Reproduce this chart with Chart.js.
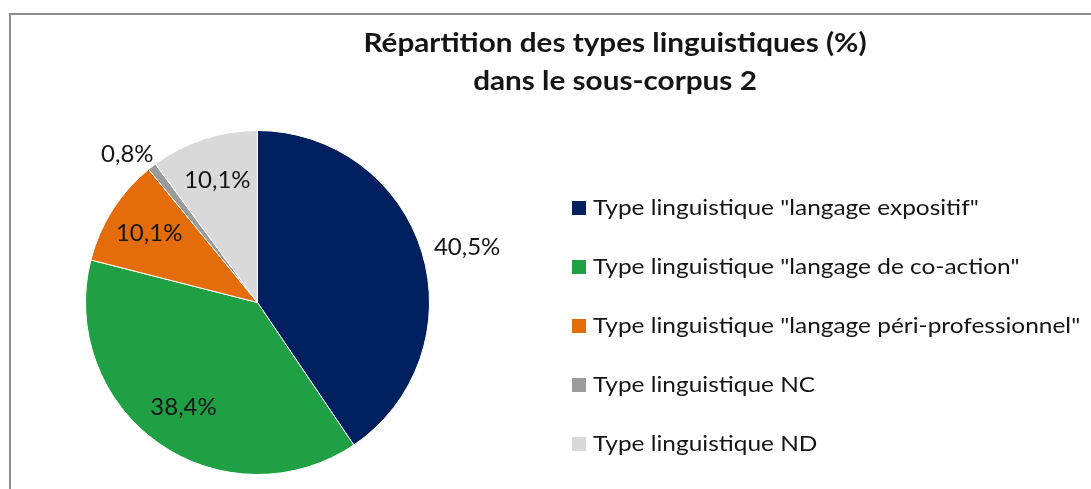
<!DOCTYPE html>
<html>
<head>
<meta charset="utf-8">
<script src="https://cdn.jsdelivr.net/npm/chart.js@4.4.1/dist/chart.umd.min.js"></script>
<style>
  html, body { margin: 0; padding: 0; background: #fff; }
</style>
</head>
<body>
<canvas id="pieChart" width="1091" height="489"></canvas>
<script>
const titleLines = ['Répartition des types linguistiques (%)', 'dans le sous-corpus 2'];
const categories = [
  'Type linguistique "langage expositif"',
  'Type linguistique "langage de co-action"',
  'Type linguistique "langage péri-professionnel"',
  'Type linguistique NC',
  'Type linguistique ND',
];
const values = [40.5, 38.4, 10.1, 0.8, 10.1];
const sliceColors = ['#002060', '#1fa045', '#e46c0a', '#9b9b9b', '#d9d9d9'];
// which labels Excel put outside the pie
const labelOutside = [true, false, false, true, false];

const FONT = 'Lato, "Open Sans", sans-serif';
const TEXT_COLOR = '#151515';

const fmt = (v) => v.toFixed(1).replace('.', ',') + '%';

// texte un peu élargi pour coller à la police d'origine (Calibri)
function wideText(ctx, text, x, y, sx) {
  ctx.save();
  ctx.translate(x, y);
  ctx.scale(sx, 1);
  ctx.fillText(text, 0, 0);
  ctx.restore();
}

// cadre gris + titre + légende
const decorations = {
  id: 'decorations',
  afterDraw(chart) {
    const { ctx } = chart;
    ctx.save();
    ctx.strokeStyle = '#8c8c8c';
    ctx.lineWidth = 2;
    ctx.strokeRect(10, 14, 2000, 2000);

    ctx.fillStyle = TEXT_COLOR;
    ctx.textAlign = 'center';
    ctx.textBaseline = 'alphabetic';
    ctx.font = 'bold 27px ' + FONT;
    wideText(ctx, titleLines[0], 615, 52, 1.1);
    wideText(ctx, titleLines[1], 615, 90, 1.1);

    ctx.textAlign = 'left';
    ctx.font = '22px ' + FONT;
    chart.data.labels.forEach((label, i) => {
      const base = 215 + i * 59;
      ctx.fillStyle = sliceColors[i];
      ctx.fillRect(572, base - 14, 14, 14);
      ctx.fillStyle = TEXT_COLOR;
      wideText(ctx, label, 593, base, 1.11);
    });
    ctx.restore();
  },
};

// étiquettes de pourcentage
const sliceLabels = {
  id: 'sliceLabels',
  afterDatasetsDraw(chart) {
    const { ctx } = chart;
    const meta = chart.getDatasetMeta(0);
    ctx.save();
    ctx.font = '24px ' + FONT;
    ctx.fillStyle = TEXT_COLOR;
    ctx.textBaseline = 'middle';
    ctx.textAlign = 'center';
    meta.data.forEach((arc, i) => {
      const { x, y, startAngle, endAngle, outerRadius } = arc.getProps(['x', 'y', 'startAngle', 'endAngle', 'outerRadius'], true);
      const mid = (startAngle + endAngle) / 2;
      const text = fmt(chart.data.datasets[0].data[i]);
      const w = ctx.measureText(text).width;
      let cx;
      let cy;
      if (labelOutside[i]) {
        const r = outerRadius + 14;
        cx = x + Math.cos(mid) * (r + w * 0.5);
        cy = y + Math.sin(mid) * (r + 2);
      } else {
        const r = outerRadius * 0.747;
        cx = x + Math.cos(mid) * r;
        cy = y + Math.sin(mid) * r;
      }
      ctx.fillText(text, cx, cy);
    });
    ctx.restore();
  },
};

new Chart(document.getElementById('pieChart').getContext('2d'), {
  type: 'pie',
  data: {
    labels: categories,
    datasets: [{
      data: values,
      backgroundColor: sliceColors,
      borderColor: '#ffffff',
      borderWidth: 1,
    }],
  },
  options: {
    responsive: false,
    animation: false,
    layout: {
      padding: { left: 85, right: 661, top: 130, bottom: 14 },
    },
    plugins: {
      legend: { display: false },
      title: { display: false },
      tooltip: { enabled: false },
    },
  },
  plugins: [sliceLabels, decorations],
});
</script>
</body>
</html>
